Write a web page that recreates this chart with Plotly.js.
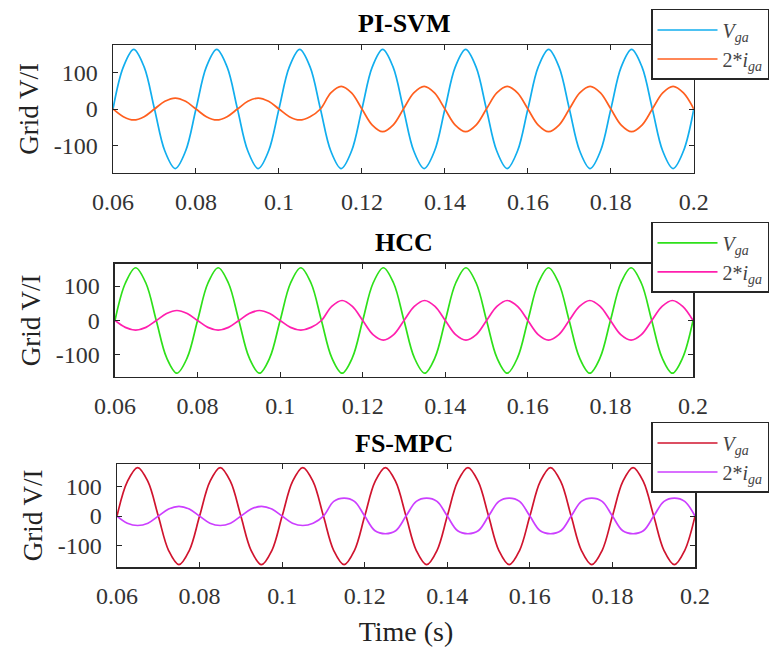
<!DOCTYPE html>
<html>
<head>
<meta charset="utf-8">
<script src="https://cdn.plot.ly/plotly-3.0.1.min.js"></script>
<style>html,body{margin:0;padding:0;background:#fff;}#chart{width:784px;height:651px;}</style>
</head>
<body>
<div id="chart"></div>
<script>
// Time samples (s)
var time = [0.06,0.0625,0.065,0.0675,0.07,0.0725,0.075,0.0775,0.08,0.0825,0.085,0.0875,0.09,0.0925,0.095,0.0975,
  0.1,0.1025,0.105,0.1075,0.11,0.1125,0.115,0.1175,0.12,0.1225,0.125,0.1275,0.13,0.1325,0.135,0.1375,
  0.14,0.1425,0.145,0.1475,0.15,0.1525,0.155,0.1575,0.16,0.1625,0.165,0.1675,0.17,0.1725,0.175,0.1775,
  0.18,0.1825,0.185,0.1875,0.19,0.1925,0.195,0.1975,0.2];

// PI-SVM
var vgaPISVM = [0,115,163,115,0,-115,-163,-115, 0,115,163,115,0,-115,-163,-115,
  0,115,163,115,0,-115,-163,-115, 0,115,163,115,0,-115,-163,-115,
  0,115,163,115,0,-115,-163,-115, 0,115,163,115,0,-115,-163,-115,
  0,115,163,115,0,-115,-163,-115, 0];
var igaPISVM = [0,-21,-30,-21,0,21,30,21, 0,-21,-30,-21,0,21,30,21,
  0,-21,-30,-21,0,44,62,44, 0,-44,-62,-44,0,44,62,44,
  0,-44,-62,-44,0,44,62,44, 0,-44,-62,-44,0,44,62,44,
  0,-44,-62,-44,0,44,62,44, 0];

// HCC
var vgaHCC = [0,108,153,108,0,-108,-153,-108, 0,108,153,108,0,-108,-153,-108,
  0,108,153,108,0,-108,-153,-108, 0,108,153,108,0,-108,-153,-108,
  0,108,153,108,0,-108,-153,-108, 0,108,153,108,0,-108,-153,-108,
  0,108,153,108,0,-108,-153,-108, 0];
var igaHCC = [0,-20,-28,-20,0,20,29,20, 0,-20,-28,-20,0,20,29,20,
  0,-20,-28,-20,0,41,58,41, 0,-41,-57,-41,0,41,58,41,
  0,-41,-57,-41,0,41,58,41, 0,-41,-57,-41,0,41,58,41,
  0,-41,-57,-41,0,41,58,41, 0];

// FS-MPC
var vgaFSMPC = [0,117,165,117,0,-117,-165,-117, 0,117,165,117,0,-117,-165,-117,
  0,117,165,117,0,-117,-165,-117, 0,117,165,117,0,-117,-165,-117,
  0,117,165,117,0,-117,-165,-117, 0,117,165,117,0,-117,-165,-117,
  0,117,165,117,0,-117,-165,-117, 0];
var igaFSMPC = [0,-24,-32,-24,0,24,33,24, 0,-24,-32,-24,0,24,33,24,
  0,-24,-32,-24,0,50,61,50, 0,-50,-60,-50,0,50,61,50,
  0,-50,-60,-50,0,50,61,50, 0,-50,-60,-50,0,50,61,50,
  0,-50,-60,-50,0,50,61,50, 0];

var panelTitles = ['PI-SVM', 'HCC', 'FS-MPC'];
var seriesNames = ['<i>V</i><sub><i>ga</i></sub>', '2*<i>i</i><sub><i>ga</i></sub>'];
var xTicks = [0.06, 0.08, 0.1, 0.12, 0.14, 0.16, 0.18, 0.2];
var xTickText = ['0.06','0.08','0.1','0.12','0.14','0.16','0.18','0.2'];
var yTicks = [-100, 0, 100];
var yTickText = ['-100', '0', '100'];

var FONT = 'Liberation Serif, Times New Roman, serif';
var AX = '#262626';

function line(x, y, name, color, xa, ya, lg) {
  return {x: x, y: y, name: name, type: 'scatter', mode: 'lines',
    line: {color: color, width: 1.7, shape: 'spline', smoothing: 1},
    xaxis: xa, yaxis: ya, legend: lg};
}

var data = [
  line(time, vgaPISVM, seriesNames[0], '#12AEEE', 'x', 'y', 'legend'),
  line(time, igaPISVM, seriesNames[1], '#FF5F1F', 'x', 'y', 'legend'),
  line(time, vgaHCC, seriesNames[0], '#2EE01A', 'x2', 'y2', 'legend2'),
  line(time, igaHCC, seriesNames[1], '#FF1FAE', 'x2', 'y2', 'legend2'),
  line(time, vgaFSMPC, seriesNames[0], '#D0142E', 'x3', 'y3', 'legend3'),
  line(time, igaFSMPC, seriesNames[1], '#CC3FFF', 'x3', 'y3', 'legend3')
];

function xax(domain, anchor, title) {
  var a = {domain: domain, anchor: anchor, range: [0.06, 0.2], tickmode: 'array',
    tickvals: xTicks, ticktext: xTickText,
    ticks: 'inside', ticklen: 5, tickcolor: AX, tickwidth: 1,
    showline: true, linecolor: AX, linewidth: 1.5, mirror: 'ticks',
    showgrid: false, zeroline: false, ticklabelstandoff: 7,
    tickfont: {family: FONT, size: 24, color: '#333333'}};
  if (title) a.title = {text: title, font: {family: FONT, size: 28, color: '#222222'}, standoff: 13};
  return a;
}
function yax(domain, anchor, range) {
  return {domain: domain, anchor: anchor, range: range, tickmode: 'array',
    tickvals: yTicks, ticktext: yTickText,
    ticks: 'inside', ticklen: 5, tickcolor: AX, tickwidth: 1,
    showline: true, linecolor: AX, linewidth: 1.5, mirror: 'ticks',
    showgrid: false, zeroline: false, ticklabelstandoff: 9,
    tickfont: {family: FONT, size: 24, color: '#333333'},
    title: {text: 'Grid V/I', font: {family: FONT, size: 27, color: '#222222'}, standoff: 7}};
}
function leg(y) {
  return {x: 0.9244, y: y, xanchor: 'left', yanchor: 'top', bgcolor: '#ffffff',
    bordercolor: AX, borderwidth: 1.5, font: {family: FONT, size: 20, color: '#444444'},
    itemwidth: 60, tracegroupgap: 0};
}

var layout = {
  width: 784, height: 651,
  margin: {l: 113, r: 89, t: 45, b: 84, autoexpand: false},
  paper_bgcolor: '#ffffff', plot_bgcolor: '#ffffff',
  font: {family: FONT, size: 20, color: '#333333'},
  xaxis: xax([0, 0.998], 'y'),
  yaxis: yax([0.7548, 1], 'x', [-175, 175]),
  xaxis2: xax([0.0034, 0.9966], 'y2'),
  yaxis2: yax([0.364, 0.5805], 'x2', [-164, 164]),
  xaxis3: xax([0.0069, 1], 'y3', 'Time (s)'),
  yaxis3: yax([0, 0.1973], 'x3', [-173, 177]),
  legend: leg(1.069),
  legend2: leg(0.661),
  legend3: leg(0.2778),
  annotations: [
    {text: '<b>' + panelTitles[0] + '</b>', xref: 'paper', yref: 'paper', x: 0.5, y: 1.042, xanchor: 'center', yanchor: 'middle', showarrow: false, font: {family: FONT, size: 26, color: '#000000'}},
    {text: '<b>' + panelTitles[1] + '</b>', xref: 'paper', yref: 'paper', x: 0.5, y: 0.6226, xanchor: 'center', yanchor: 'middle', showarrow: false, font: {family: FONT, size: 26, color: '#000000'}},
    {text: '<b>' + panelTitles[2] + '</b>', xref: 'paper', yref: 'paper', x: 0.5, y: 0.2375, xanchor: 'center', yanchor: 'middle', showarrow: false, font: {family: FONT, size: 26, color: '#000000'}}
  ],
  showlegend: true
};

Plotly.newPlot('chart', data, layout, {displayModeBar: false, staticPlot: true});
</script>
</body>
</html>
